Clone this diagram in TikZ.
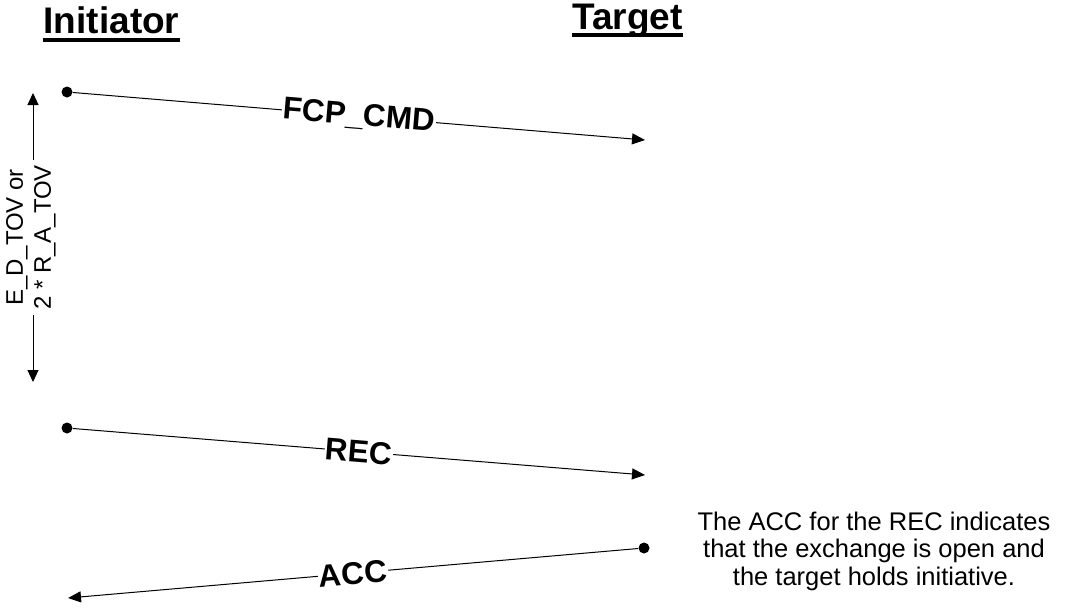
\documentclass[tikz,border=0pt]{standalone}
\usepackage{fontspec}
\setmainfont{Liberation Sans}
\usetikzlibrary{arrows.meta}

\begin{document}
\begin{tikzpicture}[x=1pt,y=-1pt,line width=1pt,
        tip/.style={-{Triangle[length=13pt,width=11pt]}},
        dot/.style={circle,fill,inner sep=0pt,minimum size=11pt},
        msg/.style={font=\bfseries\fontsize{31.5}{36}\selectfont,fill=white,inner sep=1pt,sloped},
        head/.style={font=\bfseries\fontsize{37}{44}\selectfont,inner sep=0pt,anchor=base}]
        \useasboundingbox (0,0) rectangle (1065,608);

        \node[head] (ini) at (111.5,33) {Initiator};
        \node[head] (tgt) at (627.5,29.5) {Target};
        \draw[line width=4pt] ([yshift=-6.5pt]ini.base west) -- ([yshift=-6.5pt]ini.base east);
        \draw[line width=3.5pt] ([yshift=-5.5pt]tgt.base west) -- ([yshift=-5.5pt]tgt.base east);

        % timeout
        \coordinate (tovtop) at (33,93);
        \coordinate (tovbot) at (33,382);
        \draw[{Triangle[length=12pt,width=11pt]}-{Triangle[length=12pt,width=11pt]}] (tovtop) -- node[fill=white,xshift=-2pt,rotate=90,align=center,inner xsep=5pt,inner ysep=2pt,font=\fontsize{24}{28}\selectfont] (tov) {E\_D\_TOV or\\2 * R\_A\_TOV} (tovbot);

        % frames
        \node[dot] (cmd0) at (67,92) {};
        \coordinate (cmd1) at (645,140);
        \draw[tip] (cmd0) -- node[msg] {FCP\_CMD} (cmd1);

        \node[dot] (rec0) at (67,428) {};
        \coordinate (rec1) at (645,475);
        \draw[tip] (rec0) -- node[msg] {REC} (rec1);

        \node[dot] (acc0) at (644,548) {};
        \coordinate (acc1) at (68,598);
        \draw[tip] (acc0) -- node[msg] {ACC} (acc1);

        \node[align=center,font=\fontsize{25.5}{27.5}\selectfont] (note) at (874,551) {The ACC for the REC indicates\\that the exchange is open and\\the target holds initiative.};
    \end{tikzpicture}
\end{document}
